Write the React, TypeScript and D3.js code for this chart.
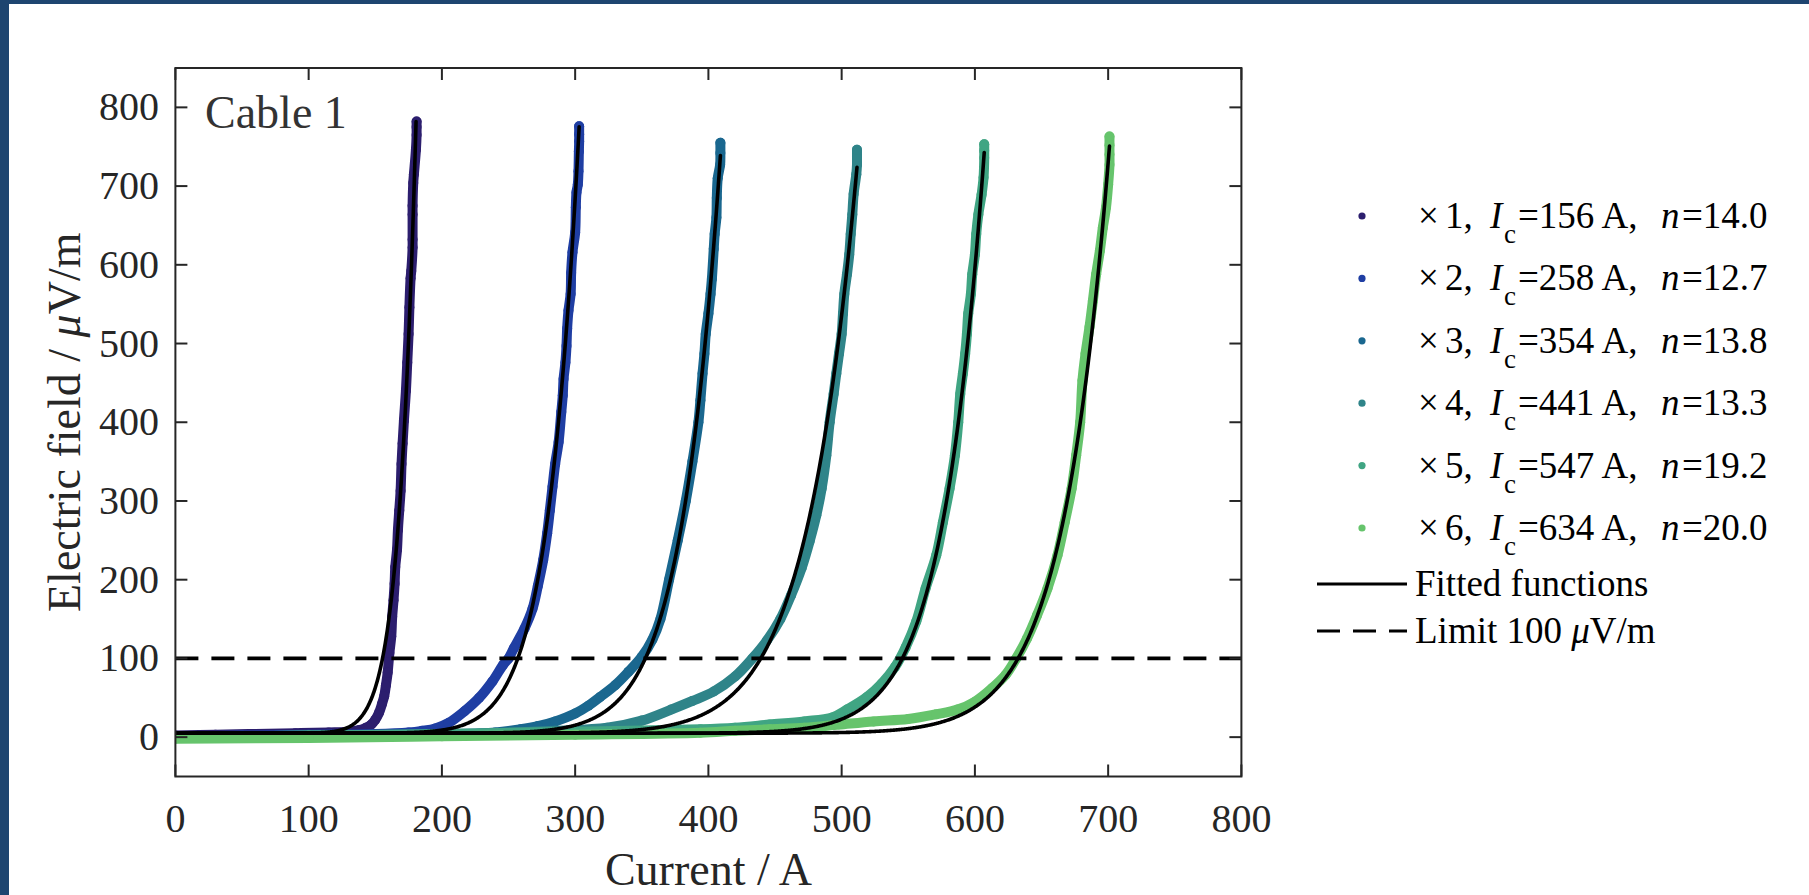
import React, { useRef, useEffect } from 'react';
import * as d3 from 'd3';

type Pt = [number, number];

// legend / fit parameters
const sampleLabels = ['1', '2', '3', '4', '5', '6'];
const criticalCurrent = [156, 258, 354, 441, 547, 634];
const nValues = [14.0, 12.7, 13.8, 13.3, 19.2, 20.0];
const seriesColors = ['#2c1e6e', '#1f3ea3', '#1a678f', '#2f8489', '#40a583', '#66c46c'];

const series1: Pt[] = [
  [0, 2], [30, 3], [60, 4], [90, 5], [115, 6], [130, 7], [138, 9], [143, 12], [147, 16], [150, 22],
  [152.8, 31], [155, 42], [156.7, 52], [158, 66], [159.3, 82], [160.6, 107], [162, 128], [162.7, 153],
  [163.7, 174], [164.5, 195], [165, 216], [166.3, 238], [167, 263], [168, 288], [169, 313], [169.7, 347],
  [170.5, 373], [171.5, 402], [173, 440], [174, 476], [175, 512], [175.6, 546], [176.5, 583], [177, 592],
  [178, 622], [178, 632], [178, 664], [178, 675], [178.5, 704], [179, 715], [180.5, 746], [181, 765],
  [181, 775], [181, 782],
];
const series2: Pt[] = [
  [0, 1], [50, 2], [100, 3], [150, 4], [175, 6], [185, 8], [195, 11], [205, 18], [217, 33], [228, 50],
  [238, 71], [246, 92], [250, 100], [254, 113], [262, 138], [268, 163], [272, 192], [276, 225], [279, 259],
  [281, 288], [283, 318], [285, 347], [287.6, 375], [289.6, 413], [290.7, 434], [291.3, 455], [292.7, 476],
  [293.5, 497], [294, 519], [295, 542], [296.6, 563], [297, 590], [298, 616], [300, 641], [300.5, 673],
  [301, 692], [302, 702], [302.5, 719], [302.8, 744], [303, 757], [303, 766], [303, 776],
];
const series3: Pt[] = [
  [0, 0], [100, 2], [200, 4], [240, 6], [259, 10], [272, 14], [285, 20], [300, 30], [310, 40], [318.7, 51],
  [330, 66], [340, 83], [350, 102], [358, 124], [364, 150], [370.5, 200], [377, 250], [383, 300], [388, 350],
  [392.5, 400], [394, 428], [395.6, 462], [397, 487], [398, 512], [400, 538], [401.6, 563], [402.6, 582],
  [404, 620], [404.7, 639], [406, 660], [406.3, 685], [407, 710], [408.8, 727], [409, 742], [409, 755],
];
const series4: Pt[] = [
  [0, 0], [100, 2], [200, 3], [285, 8], [324, 12], [350, 21], [372, 35], [388, 46], [404, 58], [420, 77],
  [433, 100], [444, 123], [454, 150], [462, 180], [470, 215], [476, 249], [481, 282], [485, 316],
  [488.5, 358], [491, 400], [494, 436], [496, 462], [498, 487], [500, 512], [501, 538], [502, 563],
  [504, 588], [505.7, 613], [506.8, 639], [508, 664], [509, 690], [511, 715], [511.5, 727], [511.5, 737],
  [511.5, 746],
];
const series5: Pt[] = [
  [0, 0], [100, 2], [200, 4], [300, 7], [394, 10], [420, 12], [446, 16], [472, 20], [493, 25], [504, 35],
  [519, 51], [530, 68], [540, 89], [548, 114], [556, 147], [563, 189], [571, 231], [576, 273], [581, 316],
  [585, 358], [587.5, 400], [589, 436], [591, 462], [592.7, 487], [594, 512], [595, 538], [597, 563],
  [598, 588], [600, 613], [601, 639], [602.6, 664], [605, 689], [606.5, 711], [607, 736], [607, 745],
  [607, 753],
];
const series6: Pt[] = [
  [0, -2], [100, -1], [200, 1], [300, 3], [394, 5.5], [420, 8], [446, 10], [472, 12], [498, 16], [524, 20],
  [550, 23], [571, 29], [587, 35], [600, 45], [612.8, 62], [623, 79], [631, 100], [639, 125], [646.7, 155],
  [654.5, 189], [662, 231], [667.4, 273], [672.6, 316], [676, 358], [679, 400], [680.7, 453], [683, 487],
  [686, 521], [688.5, 554], [691, 588], [693.8, 618], [696, 647], [698.4, 673], [700, 702], [701, 727],
  [701, 740], [701, 752], [701, 763],
];
const seriesData = [series1, series2, series3, series4, series5, series6];

const xTicks = [0, 100, 200, 300, 400, 500, 600, 700, 800];
const yTicks = [0, 100, 200, 300, 400, 500, 600, 700, 800];
const limitField = 100;
const fitOffset = 5;

function App() {
  const svgRef = useRef<SVGSVGElement>(null);

  useEffect(() => {
    const width = 1809;
    const height = 895;
    const plot = { left: 175.4, right: 1241.4, top: 68, bottom: 776.5 };
    const serif = '"Liberation Serif", "Times New Roman", "DejaVu Serif", serif';
    const axisColor = '#262626';

    const svg = d3.select(svgRef.current);
    svg.selectAll('*').remove();
    svg.attr('width', width).attr('height', height).style('display', 'block');

    const x = d3.scaleLinear().domain([0, 800]).range([plot.left, plot.right]);
    const y = d3.scaleLinear().domain([-50, 850]).range([plot.bottom, plot.top]);

    // background + window frame
    svg.append('rect').attr('width', width).attr('height', height).attr('fill', '#ffffff');
    svg.append('rect').attr('width', width).attr('height', 4).attr('fill', '#1e4570');
    svg.append('rect').attr('width', 9).attr('height', height).attr('fill', '#1e4570');

    svg.append('clipPath').attr('id', 'plot-clip')
      .append('rect')
      .attr('x', plot.left).attr('y', plot.top)
      .attr('width', plot.right - plot.left).attr('height', plot.bottom - plot.top);

    const inner = svg.append('g').attr('clip-path', 'url(#plot-clip)');

    const line = d3.line<Pt>()
      .x(d => x(d[0]))
      .y(d => y(d[1]))
      .curve(d3.curveCatmullRom.alpha(0.5));

    // measured points
    seriesData.forEach((data, i) => {
      inner.append('path')
        .datum(data)
        .attr('d', line)
        .attr('fill', 'none')
        .attr('stroke', seriesColors[i])
        .attr('stroke-width', 10)
        .attr('stroke-linecap', 'round')
        .attr('stroke-linejoin', 'round');

      inner.selectAll(null)
        .data(data)
        .enter()
        .append('circle')
        .attr('cx', d => x(d[0]))
        .attr('cy', d => y(d[1]))
        .attr('r', 5)
        .attr('fill', seriesColors[i]);
    });

    // fitted power-law E = 100 (I/Ic)^n + offset
    seriesData.forEach((data, i) => {
      const Ic = criticalCurrent[i];
      const n = nValues[i];
      const eMax = d3.max(data, d => d[1]) as number;
      const iMax = d3.max(data, d => d[0]) as number;
      const iEnd = Math.min(iMax, Ic * Math.pow((eMax - fitOffset) / 100, 1 / n));
      const pts: Pt[] = d3.range(0, iEnd, 0.5).concat([iEnd])
        .map(I => [I, 100 * Math.pow(I / Ic, n) + fitOffset]);
      inner.append('path')
        .datum(pts)
        .attr('d', d3.line<Pt>().x(d => x(d[0])).y(d => y(d[1])))
        .attr('fill', 'none')
        .attr('stroke', '#000')
        .attr('stroke-width', 3.6)
        .attr('stroke-linecap', 'round');
    });

    // 100 uV/m limit
    inner.append('line')
      .attr('x1', x(0)).attr('x2', x(800))
      .attr('y1', y(limitField)).attr('y2', y(limitField))
      .attr('stroke', '#000')
      .attr('stroke-width', 3.6)
      .attr('stroke-dasharray', '23 13');

    // axes box and ticks
    const tickLen = 12;
    const axes = svg.append('g').attr('stroke', axisColor).attr('stroke-width', 2);
    axes.append('rect')
      .attr('x', plot.left).attr('y', plot.top)
      .attr('width', plot.right - plot.left).attr('height', plot.bottom - plot.top)
      .attr('fill', 'none');
    xTicks.forEach(t => {
      axes.append('line').attr('x1', x(t)).attr('x2', x(t)).attr('y1', plot.bottom).attr('y2', plot.bottom - tickLen);
      axes.append('line').attr('x1', x(t)).attr('x2', x(t)).attr('y1', plot.top).attr('y2', plot.top + tickLen);
    });
    yTicks.forEach(t => {
      axes.append('line').attr('x1', plot.left).attr('x2', plot.left + tickLen).attr('y1', y(t)).attr('y2', y(t));
      axes.append('line').attr('x1', plot.right).attr('x2', plot.right - tickLen).attr('y1', y(t)).attr('y2', y(t));
    });

    const labels = svg.append('g').attr('font-family', serif).attr('fill', axisColor);
    xTicks.forEach(t => {
      labels.append('text')
        .attr('x', x(t)).attr('y', 832)
        .attr('text-anchor', 'middle')
        .attr('font-size', 40)
        .text(t);
    });
    yTicks.forEach(t => {
      labels.append('text')
        .attr('x', 159).attr('y', y(t) + 13)
        .attr('text-anchor', 'end')
        .attr('font-size', 40)
        .text(t);
    });

    labels.append('text')
      .attr('x', (plot.left + plot.right) / 2).attr('y', 885)
      .attr('text-anchor', 'middle')
      .attr('font-size', 46)
      .text('Current / A');

    const yLabel = labels.append('text')
      .attr('transform', `translate(80, ${(plot.top + plot.bottom) / 2}) rotate(-90)`)
      .attr('text-anchor', 'middle')
      .attr('font-size', 46);
    yLabel.append('tspan').text('Electric field / ');
    yLabel.append('tspan').attr('font-style', 'italic').text('μ');
    yLabel.append('tspan').text('V/m');

    labels.append('text')
      .attr('x', 205).attr('y', 128)
      .attr('font-size', 46)
      .attr('fill', '#333')
      .text('Cable 1');

    // legend
    const legend = svg.append('g').attr('font-family', serif).attr('fill', '#000');
    const rowY = (i: number) => 216 + 62.4 * i;
    sampleLabels.forEach((lab, i) => {
      const cy = rowY(i);
      legend.append('circle').attr('cx', 1362).attr('cy', cy).attr('r', 3.6).attr('fill', seriesColors[i]);
      const t = legend.append('text').attr('y', cy + 12).attr('font-size', 37);
      t.append('tspan').attr('x', 1418).text('×');
      t.append('tspan').attr('x', 1445).text(`${lab},`);
      t.append('tspan').attr('x', 1490).attr('font-style', 'italic').text('I');
      t.append('tspan').attr('x', 1504).attr('dy', 15).attr('font-size', 27).text('c');
      t.append('tspan').attr('x', 1518).attr('dy', -15).text(`=${criticalCurrent[i]} A,`);
      t.append('tspan').attr('x', 1661).attr('font-style', 'italic').text('n');
      t.append('tspan').attr('x', 1682).text(`=${nValues[i].toFixed(1)}`);
    });

    const fitY = 584;
    legend.append('line')
      .attr('x1', 1317).attr('x2', 1407).attr('y1', fitY).attr('y2', fitY)
      .attr('stroke', '#000').attr('stroke-width', 3);
    legend.append('text').attr('x', 1415).attr('y', fitY + 12).attr('font-size', 37).text('Fitted functions');

    const limY = 631;
    legend.append('line')
      .attr('x1', 1317).attr('x2', 1407).attr('y1', limY).attr('y2', limY)
      .attr('stroke', '#000').attr('stroke-width', 3).attr('stroke-dasharray', '23 13');
    const lt = legend.append('text').attr('x', 1415).attr('y', limY + 12).attr('font-size', 37);
    lt.append('tspan').text(`Limit ${limitField} `);
    lt.append('tspan').attr('font-style', 'italic').text('μ');
    lt.append('tspan').text('V/m');
  }, []);

  return (
    <div style={{ position: 'absolute', left: 0, top: 0 }}>
      <svg ref={svgRef}></svg>
    </div>
  );
}

export default App;
